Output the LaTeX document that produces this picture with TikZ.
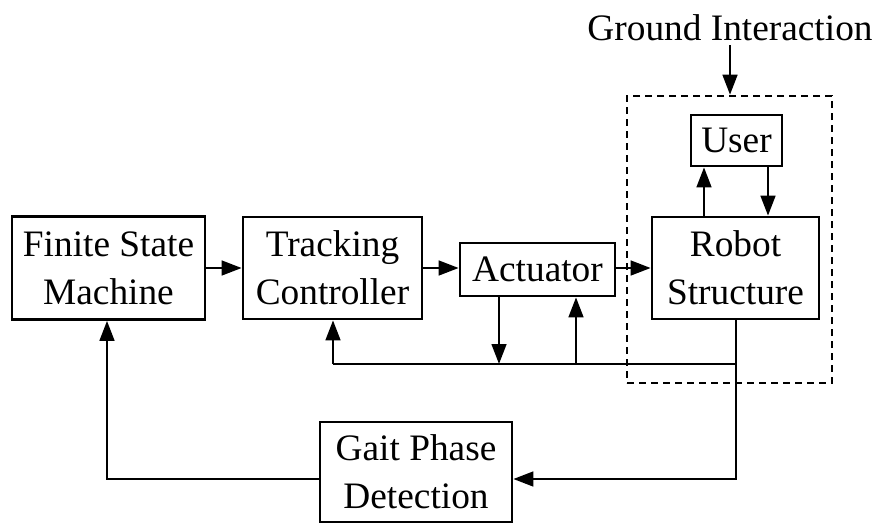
\documentclass[tikz,border=0pt]{standalone}
\usepackage{fontspec}
\setmainfont{Liberation Serif}
\usetikzlibrary{arrows.meta,calc}
\begin{document}
\begin{tikzpicture}[x=0.75pt,y=-0.75pt,
  blk/.style={draw,line width=2pt,align=center,inner sep=0pt,font=\fontsize{28}{36}\selectfont},
  conn/.style={line width=1.9pt},
  arr/.style={conn,-{Triangle[length=15pt,width=11pt]}},
  sysbox/.style={draw,dashed,dash pattern=on 5pt off 4pt,line width=1.9pt,inner sep=0pt}]
\useasboundingbox (0,0) rectangle (880,525);
\node[blk,minimum width=144.75pt,minimum height=77.25pt] (fsm) at (108.5,268) {Finite State\\Machine};
\node[blk,minimum width=134.25pt,minimum height=76.5pt] (tc) at (332.5,268) {Tracking\\Controller};
\node[blk,minimum width=116.25pt,minimum height=39.75pt] (act) at (537.5,269.5) {Actuator};
\node[blk,minimum width=125.25pt,minimum height=76.5pt] (rob) at (735.5,268) {Robot\\Structure};
\node[blk,minimum width=68.25pt,minimum height=38.25pt] (user) at (736.5,140.5) {User};
\node[blk,minimum width=144pt,minimum height=75pt] (gait) at (416,472) {Gait Phase\\Detection};
\node[sysbox,minimum width=153.75pt,minimum height=215.25pt] (sys) at (729.5,239.5) {};
\node[font=\fontsize{28}{36}\selectfont,inner sep=0pt] (gi) at (730,28) {Ground Interaction};
% coordinates
\coordinate (gitop) at (730,45);
\coordinate (ua) at (704,0);
\coordinate (ub) at (768,0);
\coordinate (fb) at (736,364);
\coordinate (fbl) at (333,364);
\coordinate (ad) at (499,364);
\coordinate (au) at (576,364);
\coordinate (gp) at (736,479);
\coordinate (gl) at (107,479);
% connectors
\draw[arr] (gitop) -- (gitop |- sys.north);
\draw[arr] (fsm.east) -- (tc.west);
\draw[arr] (tc.east) -- (tc.east -| act.west);
\draw[arr] (act.east |- rob.west) -- (rob.west);
\draw[arr] (ua |- rob.north) -- (ua |- user.south);
\draw[arr] (ub |- user.south) -- (ub |- rob.north);
\draw[conn] (fb -| rob.south) -- (fb) -- (fbl);
\draw[arr] (fbl) -- (fbl |- tc.south);
\draw[arr] (ad |- act.south) -- (ad);
\draw[arr] (au) -- (au |- act.south);
\draw[arr] (fb |- rob.south) -- (gp) -- (gp -| gait.east);
\draw[arr] (gl -| gait.west) -- (gl) -- (gl |- fsm.south);
\end{tikzpicture}
\end{document}
